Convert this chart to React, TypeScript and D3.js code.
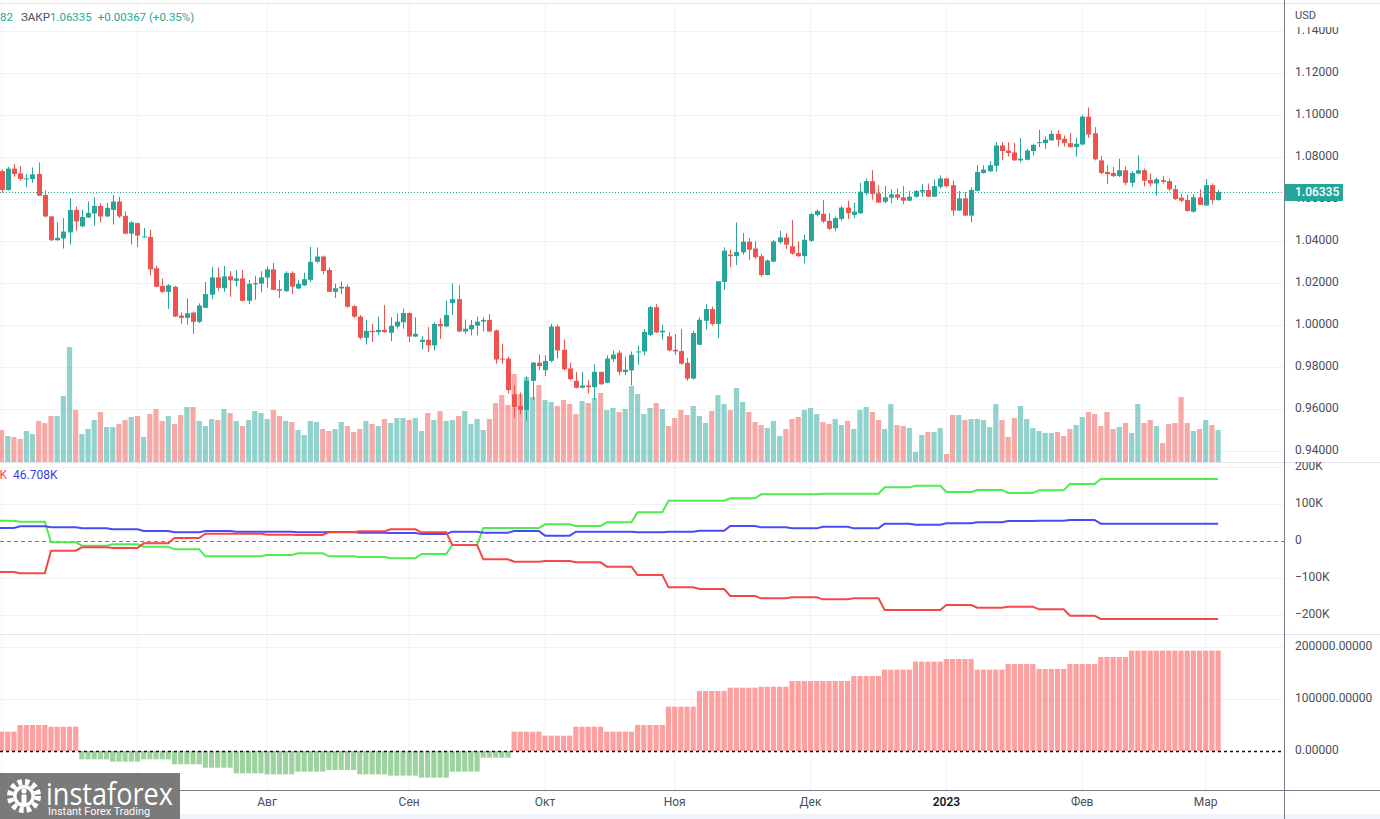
import React from 'react';
import * as d3 from 'd3';

// ---------- DATA ----------
const START_DATE = '2022-06-01';

const open = [
  1.0733,1.0643,1.0745,1.0722,1.0695,1.0695,1.0719,1.0619,1.0517,1.0404,
  1.0412,1.0441,1.0548,1.0470,1.0512,1.0531,1.0567,1.0517,1.0548,1.0588,
  1.0520,1.0435,1.0485,1.0419,1.0419,1.0270,1.0186,1.0158,1.0182,1.0045,
  1.0034,1.0059,1.0015,1.0082,1.0144,1.0227,1.0175,1.0232,1.0210,1.0222,
  1.0115,1.0193,1.0197,1.0226,1.0265,1.0170,1.0161,1.0248,1.0174,1.0189,
  1.0215,1.0301,1.0326,1.0262,1.0158,1.0174,1.0182,1.0090,1.0040,0.9939,
  0.9972,0.9966,0.9977,0.9963,0.9993,1.0013,1.0057,0.9945,0.9919,0.9930,
  0.9903,1.0005,0.9993,1.0104,1.0123,0.9969,0.9979,0.9997,1.0016,1.0024,
  0.9974,0.9840,0.9840,0.9670,0.9615,0.9596,0.9734,0.9821,0.9785,0.9829,
  0.9993,0.9882,0.9793,0.9734,0.9701,0.9712,0.9704,0.9777,0.9725,0.9837,
  0.9868,0.9776,0.9784,0.9871,0.9874,0.9953,1.0085,0.9965,0.9946,0.9882,
  0.9876,0.9820,0.9745,0.9906,1.0020,1.0076,1.0005,1.0205,1.0335,1.0328,
  1.0346,1.0397,1.0364,1.0328,1.0238,1.0302,1.0394,1.0417,1.0375,1.0343,
  1.0328,1.0401,1.0524,1.0529,1.0496,1.0461,1.0505,1.0559,1.0524,1.0532,
  1.0627,1.0685,1.0627,1.0587,1.0606,1.0622,1.0608,1.0592,1.0611,1.0635,
  1.0643,1.0611,1.0658,1.0698,1.0666,1.0545,1.0603,1.0521,1.0639,1.0724,
  1.0732,1.0758,1.0855,1.0831,1.0822,1.0784,1.0787,1.0828,1.0866,1.0866,
  1.0879,1.0910,1.0887,1.0866,1.0847,1.0860,1.0992,1.0913,1.0784,1.0729,
  1.0724,1.0709,1.0737,1.0677,1.0721,1.0737,1.0690,1.0674,1.0690,1.0685,
  1.0647,1.0606,1.0595,1.0540,1.0608,1.0569,1.0666,1.0595
];
const high = [
  1.0741,1.0753,1.0766,1.0756,1.0719,1.0750,1.0774,1.0640,1.0520,1.0489,
  1.0509,1.0604,1.0564,1.0548,1.0588,1.0608,1.0580,1.0580,1.0619,1.0611,
  1.0541,1.0493,1.0487,1.0462,1.0454,1.0281,1.0221,1.0194,1.0186,1.0060,
  1.0126,1.0063,1.0103,1.0205,1.0276,1.0274,1.0281,1.0257,1.0260,1.0262,
  1.0215,1.0234,1.0256,1.0278,1.0296,1.0215,1.0256,1.0256,1.0213,1.0249,
  1.0372,1.0369,1.0331,1.0273,1.0197,1.0207,1.0193,1.0095,1.0048,1.0024,
  1.0005,1.0040,1.0095,1.0037,1.0056,1.0079,1.0060,1.0037,0.9947,0.9990,
  1.0013,1.0032,1.0115,1.0199,1.0190,1.0026,1.0024,1.0040,1.0037,1.0052,
  0.9978,0.9911,0.9848,0.9714,0.9679,0.9756,0.9824,0.9859,0.9856,1.0005,
  1.0001,0.9931,0.9821,0.9777,0.9777,0.9737,0.9813,0.9777,0.9856,0.9879,
  0.9879,0.9850,0.9874,0.9901,0.9981,1.0091,1.0099,1.0000,0.9965,0.9957,
  0.9981,0.9844,0.9973,1.0036,1.0099,1.0088,1.0208,1.0370,1.0359,1.0488,
  1.0438,1.0414,1.0399,1.0339,1.0312,1.0406,1.0449,1.0438,1.0501,1.0398,
  1.0430,1.0535,1.0551,1.0595,1.0532,1.0516,1.0567,1.0592,1.0583,1.0677,
  1.0698,1.0737,1.0666,1.0662,1.0646,1.0650,1.0662,1.0639,1.0643,1.0671,
  1.0674,1.0693,1.0713,1.0700,1.0687,1.0638,1.0635,1.0655,1.0761,1.0761,
  1.0780,1.0871,1.0871,1.0871,1.0868,1.0890,1.0839,1.0863,1.0929,1.0898,
  1.0926,1.0929,1.0902,1.0914,1.0891,1.1002,1.1036,1.0942,1.0805,1.0761,
  1.0753,1.0792,1.0756,1.0734,1.0808,1.0745,1.0721,1.0702,1.0709,1.0698,
  1.0666,1.0624,1.0619,1.0622,1.0646,1.0695,1.0674,1.0643
];
const low = [
  1.0630,1.0640,1.0706,1.0687,1.0656,1.0678,1.0614,1.0512,1.0400,1.0400,
  1.0364,1.0383,1.0449,1.0465,1.0509,1.0473,1.0489,1.0514,1.0478,1.0509,
  1.0432,1.0383,1.0371,1.0417,1.0237,1.0180,1.0152,1.0076,1.0038,1.0005,
  1.0002,0.9958,1.0010,1.0080,1.0123,1.0163,1.0158,1.0134,1.0183,1.0111,
  1.0100,1.0120,1.0155,1.0178,1.0165,1.0128,1.0158,1.0147,1.0171,1.0186,
  1.0205,1.0296,1.0241,1.0157,1.0128,1.0147,1.0082,1.0032,0.9931,0.9907,
  0.9919,0.9953,0.9964,0.9922,0.9982,0.9982,0.9919,0.9942,0.9884,0.9871,
  0.9879,0.9934,0.9990,1.0048,0.9966,0.9958,0.9950,0.9950,0.9969,0.9966,
  0.9816,0.9816,0.9674,0.9559,0.9575,0.9544,0.9643,0.9785,0.9756,0.9824,
  0.9840,0.9784,0.9737,0.9698,0.9698,0.9674,0.9640,0.9714,0.9722,0.9824,
  0.9761,0.9760,0.9713,0.9811,0.9855,0.9946,0.9962,0.9931,0.9874,0.9858,
  0.9811,0.9735,0.9740,0.9905,0.9978,0.9997,0.9937,1.0167,1.0276,1.0285,
  1.0335,1.0309,1.0315,1.0230,1.0236,1.0299,1.0387,1.0362,1.0335,1.0323,
  1.0293,1.0395,1.0517,1.0485,1.0453,1.0446,1.0496,1.0505,1.0509,1.0529,
  1.0619,1.0598,1.0580,1.0580,1.0580,1.0595,1.0576,1.0590,1.0606,1.0611,
  1.0609,1.0609,1.0650,1.0655,1.0520,1.0543,1.0519,1.0488,1.0636,1.0721,
  1.0729,1.0729,1.0784,1.0803,1.0780,1.0773,1.0784,1.0808,1.0847,1.0839,
  1.0879,1.0850,1.0850,1.0844,1.0803,1.0855,1.0891,1.0784,1.0718,1.0671,
  1.0705,1.0705,1.0666,1.0658,1.0718,1.0661,1.0661,1.0616,1.0674,1.0639,
  1.0595,1.0584,1.0540,1.0535,1.0572,1.0569,1.0576,1.0592
];
const close = [
  1.0643,1.0745,1.0719,1.0695,1.0698,1.0717,1.0616,1.0517,1.0404,1.0415,
  1.0445,1.0548,1.0493,1.0514,1.0534,1.0567,1.0517,1.0558,1.0588,1.0517,
  1.0435,1.0489,1.0426,1.0422,1.0265,1.0182,1.0158,1.0189,1.0040,1.0034,
  1.0056,1.0015,1.0093,1.0147,1.0227,1.0177,1.0232,1.0213,1.0222,1.0115,
  1.0196,1.0199,1.0227,1.0265,1.0167,1.0163,1.0248,1.0183,1.0196,1.0218,
  1.0301,1.0326,1.0257,1.0158,1.0175,1.0182,1.0087,1.0040,0.9939,0.9972,
  0.9966,0.9977,0.9966,0.9996,1.0016,1.0057,0.9945,0.9958,0.9930,0.9903,
  1.0005,0.9994,1.0048,1.0123,0.9969,0.9982,1.0000,1.0016,1.0024,0.9969,
  0.9836,0.9836,0.9690,0.9610,0.9596,0.9734,0.9821,0.9804,0.9829,0.9993,
  0.9879,0.9789,0.9742,0.9701,0.9712,0.9704,0.9777,0.9718,0.9840,0.9859,
  0.9777,0.9787,0.9858,0.9874,0.9967,1.0085,0.9965,0.9973,0.9879,0.9874,
  0.9816,0.9745,0.9962,1.0025,1.0076,1.0005,1.0208,1.0354,1.0328,1.0348,
  1.0397,1.0359,1.0323,1.0238,1.0307,1.0398,1.0417,1.0383,1.0340,1.0328,
  1.0406,1.0528,1.0543,1.0493,1.0458,1.0509,1.0559,1.0532,1.0540,1.0635,
  1.0685,1.0624,1.0583,1.0608,1.0622,1.0606,1.0592,1.0611,1.0638,1.0643,
  1.0611,1.0661,1.0698,1.0661,1.0545,1.0603,1.0521,1.0643,1.0729,1.0740,
  1.0761,1.0855,1.0828,1.0819,1.0784,1.0792,1.0831,1.0858,1.0871,1.0883,
  1.0910,1.0882,1.0866,1.0847,1.0863,1.0992,1.0907,1.0789,1.0724,1.0718,
  1.0709,1.0737,1.0677,1.0724,1.0737,1.0687,1.0674,1.0694,1.0682,1.0646,
  1.0600,1.0592,1.0543,1.0608,1.0572,1.0666,1.0595,1.06335
];
const volume = [
  30,24,23,21,29,26,39,37,44,44, 64,113,50,26,31,40,48,33,33,36,
  40,43,44,23,46,51,39,44,36,45, 53,53,39,34,41,40,51,47,39,34,
  40,49,47,41,50,44,39,38,30,25, 39,38,31,29,31,38,34,28,31,39,
  36,34,41,37,42,42,40,42,29,47, 40,49,39,40,44,49,36,41,30,41,
  57,65,55,86,66,83,63,75,60,58, 54,60,56,46,59,57,62,67,50,
  52,48,51,74,66,46,52,57,51,34, 42,50,45,54,44,37,49,65,56,50,
  72,58,48,38,35,32,39,24,31,41, 43,50,52,46,38,36,41,35,39,31,
  50,53,48,40,31,56,35,34,32,8, 25,28,28,32,6,45,45,40,41,41,
  40,33,56,40,23,42,54,41,32,29, 27,27,28,24,31,35,43,48,46,34,
  48,31,33,37,27,56,37,40,34,17, 36,37,63,37,29,31,40,35,30
];

// weekly positioning series (thousands of contracts)
const weeklyGreen = [
  55.0,52.3,-3.6,-12.6,-9.0,-15.3,-22.5,-41.4,-41.4,-37.8,
  -33.3,-41.4,-43.2,-46.8,-35.1,-10.8,35.1,35.1,45.0,40.5,
  50.5,77.5,109.0,109.0,115.3,126.1,126.1,127.9,127.9,145.0,
  149.5,132.4,137.8,129.7,136.9,154.1,167.6
];
const weeklyBlue = [
  35.1,39.6,36.9,34.2,31.5,27.0,23.4,27.0,25.2,25.2,
  23.4,24.3,22.5,21.6,18.9,25.2,22.5,27.0,14.4,25.2,
  25.2,23.4,25.2,27.9,40.5,36.9,34.2,38.7,34.2,46.8,
  44.1,47.7,50.5,54.1,55.0,56.8,46.708
];
const weeklyRed = [
  -83.8,-87.4,-26.1,-17.1,-18.9,-6.3,8.1,19.8,19.8,17.1,
  16.2,23.4,26.1,31.5,23.4,-10.8,-49.5,-55.9,-54.1,-57.7,
  -69.4,-91.9,-125.2,-129.7,-148.6,-155.0,-152.3,-157.7,-155.0,-186.5,
  -186.5,-173.0,-180.2,-177.5,-184.7,-201.8,-210.752
];
const weeklyHist = [
  37200,50000,46800,-16000,-20500,-16000,-25600,-32100,-42900,-44900,
  -39700,-36500,-44900,-47400,-51300,-39700,-12800,37200,29500,46800,
  37200,50000,85300,115400,121800,123700,134600,134600,144200,156400,
  171800,176900,156400,167300,157700,167300,180800,193000
];

const priceTicks = [0.94,0.96,0.98,1.00,1.02,1.04,1.06,1.08,1.10,1.12,1.14];
const cotTicks = [200,100,0,-100,-200];
const histTicks = [0,100000,200000];
const monthNames = ['2023','Фев','Мар','Апр','Май','Июн','Июл','Авг','Сен','Окт','Ноя','Дек'];
const LAST_CLOSE = 1.06335;
const HEADER_CHANGE = '+0.00367 (+0.35%)';

// ---------- HELPERS ----------
function tradingDays(start: string, n: number): Date[] {
  const out: Date[] = [];
  const d = new Date(start + 'T12:00:00Z');
  while (out.length < n) {
    const wd = d.getUTCDay();
    if (wd !== 0 && wd !== 6) out.push(new Date(d.getTime()));
    d.setUTCDate(d.getUTCDate() + 1);
  }
  return out;
}

const W = 1380, H = 819;
const AXIS_X = 1284;
const TEAL = '#26a69a', RED = '#ef5350';
const GRID = '#f0f3fa';
const TXT = '#4a4e58';
const FONT = 'Roboto, "Noto Sans", sans-serif';

export default function App() {
  const n = close.length;
  const dates = tradingDays(START_DATE, n);
  const x = d3.scaleLinear().domain([0, n - 1]).range([1.6, 1218.1]);
  const step = x(1) - x(0);

  const yP = d3.scaleLinear().domain([0.94, 1.14]).range([451, 31]);
  const yV = d3.scaleLinear().domain([0, 100]).range([460, 360]);
  const yC = d3.scaleLinear().domain([-200, 200]).range([615, 467]);
  const yH = d3.scaleLinear().domain([0, 200000]).range([751, 647]);

  // week starts: first day + every Monday
  const weekStarts: number[] = [0];
  dates.forEach((d, i) => { if (i > 0 && d.getUTCDay() === 1) weekStarts.push(i); });
  const weekOf = (i: number) => {
    let k = 0;
    for (let j = 0; j < weekStarts.length; j++) if (weekStarts[j] <= i) k = j;
    return k;
  };

  // month starts
  const months: { i: number; label: string; bold: boolean }[] = [];
  dates.forEach((d, i) => {
    if (i === 0 || d.getUTCMonth() !== dates[i - 1].getUTCMonth()) {
      const m = d.getUTCMonth();
      months.push({ i, label: monthNames[m], bold: m === 0 });
    }
  });

  const daily = (vals: number[]) => d3.range(n).map(i => vals[Math.min(weekOf(i), vals.length - 1)]);
  const lineGen = (vals: number[]) => {
    const pts: [number, number][] = daily(vals).map((v, i) => [x(i), yC(v)]);
    pts.unshift([0, pts[0][1]]);
    return d3.line()(pts) || '';
  };

  const histVals = daily(weeklyHist);

  const priceFmt = d3.format('.5f');
  const cotFmt = (v: number) => (v === 0 ? '0' : (v < 0 ? '\u2212' : '') + Math.abs(v) + 'K');

  return (
    <svg width={W} height={H} style={{ position: 'absolute', left: 0, top: 0, background: '#fff' }}
      fontFamily={FONT}>
      <defs>
        <clipPath id="cp1"><rect x={0} y={4} width={AXIS_X} height={458} /></clipPath>
        <clipPath id="cp2"><rect x={0} y={462} width={AXIS_X} height={172} /></clipPath>
        <clipPath id="cp3"><rect x={0} y={634} width={AXIS_X} height={156} /></clipPath>
        <clipPath id="ax1"><rect x={AXIS_X} y={27} width={100} height={435} /></clipPath>
        <clipPath id="ax2"><rect x={AXIS_X} y={462} width={100} height={172} /></clipPath>
      </defs>
      <rect x={0} y={0} width={W} height={H} fill="#fff" />
      <rect x={0} y={814} width={W} height={5} fill="#f0f3fa" />

      {/* vertical grid */}
      {months.map(m => (
        <line key={'vg' + m.i} x1={x(m.i)} x2={x(m.i)} y1={4} y2={790} stroke={GRID} strokeWidth={1} />
      ))}
      {/* horizontal grids */}
      {priceTicks.map(t => (
        <line key={'pg' + t} x1={0} x2={AXIS_X} y1={Math.round(yP(t)) + 0.5} y2={Math.round(yP(t)) + 0.5} stroke={GRID} />
      ))}
      {cotTicks.filter(t => t !== 0).map(t => (
        <line key={'cg' + t} x1={0} x2={AXIS_X} y1={Math.round(yC(t)) + 0.5} y2={Math.round(yC(t)) + 0.5} stroke={GRID} />
      ))}
      {histTicks.filter(t => t !== 0).map(t => (
        <line key={'hg' + t} x1={0} x2={AXIS_X} y1={Math.round(yH(t)) + 0.5} y2={Math.round(yH(t)) + 0.5} stroke={GRID} />
      ))}

      {/* price pane */}
      <g clipPath="url(#cp1)">
        {volume.map((v, i) => {
          const up = close[i] >= open[i];
          return (
            <rect key={'v' + i} x={x(i) - step / 2 + 0.5} width={step - 1} y={yV(v)} height={yV(0) - yV(v) + 2}
              fill={up ? 'rgba(38,166,154,0.5)' : 'rgba(239,83,80,0.5)'} />
          );
        })}
        <line x1={0} x2={AXIS_X} y1={Math.round(yP(LAST_CLOSE)) + 0.5} y2={Math.round(yP(LAST_CLOSE)) + 0.5}
          stroke={TEAL} strokeDasharray="1 2" />
        {close.map((c, i) => {
          const o = open[i];
          const up = c >= o;
          const col = up ? TEAL : RED;
          const cx = Math.round(x(i));
          const top = yP(Math.max(o, c));
          const bot = yP(Math.min(o, c));
          return (
            <g key={'c' + i}>
              <line x1={cx + 0.5} x2={cx + 0.5} y1={yP(high[i])} y2={yP(low[i])} stroke={col} strokeWidth={1} />
              <rect x={cx - 2} width={5} y={top} height={Math.max(1, bot - top)} fill={col} />
            </g>
          );
        })}
      </g>

      {/* separators */}
      <line x1={0} x2={W} y1={462.5} y2={462.5} stroke="#e0e3eb" />
      <line x1={0} x2={W} y1={634.5} y2={634.5} stroke="#e0e3eb" />
      <line x1={0} x2={W} y1={3.5} y2={3.5} stroke="#e0e3eb" />

      {/* COT lines pane */}
      <g clipPath="url(#cp2)">
        <line x1={0} x2={AXIS_X} y1={Math.round(yC(0)) + 0.5} y2={Math.round(yC(0)) + 0.5} stroke="#787b86" strokeDasharray="4 3" />
        <path d={lineGen(weeklyGreen)} fill="none" stroke="#4ded4d" strokeWidth={2} />
        <path d={lineGen(weeklyBlue)} fill="none" stroke="#4b4bf5" strokeWidth={2} />
        <path d={lineGen(weeklyRed)} fill="none" stroke="#f44848" strokeWidth={2} />
        <text x={7} y={476} textAnchor="end" dominantBaseline="middle" fontSize={12} fill="#f44848">
          {cotFmt(weeklyRed[weeklyRed.length - 1]).replace('\u2212', '-')}
        </text>
        <text x={13} y={476} dominantBaseline="middle" fontSize={12} fill="#3a3af0">
          {d3.format('.3f')(weeklyBlue[weeklyBlue.length - 1]) + 'K'}
        </text>
      </g>

      {/* histogram pane */}
      <g clipPath="url(#cp3)">
        {histVals.map((v, i) => {
          const y0 = yH(0), y1 = yH(v);
          return (
            <rect key={'h' + i} x={x(i) - step / 2 + 0.5} width={step - 1}
              y={Math.min(y0, y1)} height={Math.abs(y1 - y0)}
              fill={v >= 0 ? 'rgba(255,82,82,0.55)' : 'rgba(76,175,80,0.55)'} />
          );
        })}
        <line x1={0} x2={AXIS_X} y1={Math.round(yH(0)) + 0.5} y2={Math.round(yH(0)) + 0.5} stroke="#111" strokeWidth={1.3} strokeDasharray="3 3" />
      </g>

      {/* axes lines */}
      <line x1={AXIS_X + 0.5} x2={AXIS_X + 0.5} y1={0} y2={H} stroke="#787b86" />
      <line x1={0} x2={W} y1={790.5} y2={790.5} stroke="#787b86" />

      {/* price axis labels */}
      <g clipPath="url(#ax1)">
        {priceTicks.map(t => (
          <text key={'pt' + t} x={1295} y={yP(t)} dominantBaseline="middle" fontSize={12} fill={TXT}>{priceFmt(t)}</text>
        ))}
      </g>
      <text x={1295} y={16} dominantBaseline="middle" fontSize={11} fill={TXT}>USD</text>
      <rect x={AXIS_X + 1} y={Math.round(yP(LAST_CLOSE)) - 8} width={58} height={17} fill={TEAL} />
      <text x={1295} y={Math.round(yP(LAST_CLOSE)) + 0.5} dominantBaseline="middle" fontSize={12} fontWeight={500} fill="#fff">
        {priceFmt(LAST_CLOSE)}
      </text>

      {/* cot axis labels */}
      <g clipPath="url(#ax2)">
        {cotTicks.map(t => (
          <text key={'ct' + t} x={1295} y={yC(t)} dominantBaseline="middle" fontSize={12} fill={TXT}>{cotFmt(t)}</text>
        ))}
      </g>
      {histTicks.map(t => (
        <text key={'ht' + t} x={1295} y={yH(t)} dominantBaseline="middle" fontSize={12} fill={TXT}>{priceFmt(t)}</text>
      ))}

      {/* time axis labels */}
      {months.map(m => (
        <text key={'ml' + m.i} x={x(m.i)} y={803} textAnchor="middle" dominantBaseline="middle" fontSize={12}
          fill={m.bold ? '#131722' : TXT} fontWeight={m.bold ? 600 : 400}>{m.label}</text>
      ))}

      {/* header */}
      <text x={0} y={18} dominantBaseline="middle" fontSize={11.5}>
        <tspan fill={TEAL}>82</tspan>
        <tspan fill={TXT} dx={8}>ЗАКР</tspan>
        <tspan fill={TEAL}>{priceFmt(LAST_CLOSE)}</tspan>
        <tspan fill={TEAL} dx={6}>{HEADER_CHANGE}</tspan>
      </text>

      {/* logo */}
      <g>
        <rect x={0} y={773} width={180} height={46} fill="#7a7a7a" />
        <circle cx={24} cy={796} r={14} fill="none" stroke="#fff" strokeWidth={6} strokeDasharray="4.4 3" />
        <circle cx={24} cy={796} r={11} fill="#fff" />
        <circle cx={24} cy={796} r={7.5} fill="#7a7a7a" />
        <circle cx={24} cy={791} r={2.6} fill="#fff" />
        <rect x={21.5} y={794.5} width={5} height={11} fill="#fff" />
        <text x={46} y={805} fontSize={31} fill="#fff" textLength={127} lengthAdjust="spacingAndGlyphs"
          fontFamily='"Open Sans", Roboto, sans-serif'>instaforex</text>
        <text x={48} y={815} fontSize={11.5} fill="#fff" textLength={102} lengthAdjust="spacingAndGlyphs">Instant Forex Trading</text>
      </g>
    </svg>
  );
}
